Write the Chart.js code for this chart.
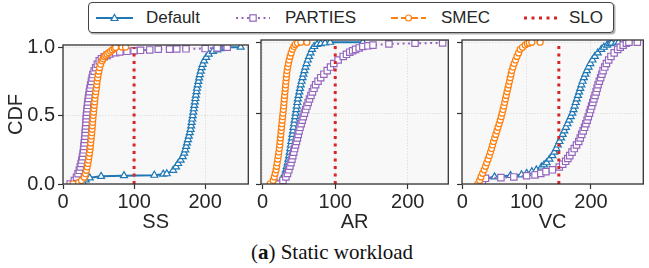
<!DOCTYPE html>
<html>
<head>
<meta charset="utf-8">
<script src="https://cdn.jsdelivr.net/npm/chart.js@4.4.0/dist/chart.umd.min.js"></script>
<style>
  body { margin: 0; width: 649px; height: 268px; background: #fff; position: relative; overflow: hidden;
         font-family: "Liberation Sans", Arial, sans-serif; }
  canvas { position: absolute; top: 30px; }
  #legend { position: absolute; left: 88px; top: 2px; width: 524px; height: 29px; border: 1.3px solid #444;
            border-radius: 4px; box-shadow: 1.5px 1.5px 0 rgba(0,0,0,0.3); background: #fff; }
  .item { position: absolute; top: 0; height: 29px; line-height: 29px; font-size: 17px; color: #262626; }
  .sample { position: absolute; top: 8px; }
  #caption { position: absolute; left: 232px; width: 200px; top: 240px; text-align: center;
             font: 21px "Liberation Serif", "Times New Roman", serif; color: #111; }
</style>
</head>
<body>
<div id="legend">
  <svg class="sample" style="left:7px" width="37" height="14">
    <line x1="0" y1="7" x2="37" y2="7" stroke="#1f77b4" stroke-width="2"/>
    <polygon points="18.5,3.5 22,9.5 15,9.5" fill="#fff" stroke="#1f77b4" stroke-width="1.2"/>
  </svg>
  <span class="item" style="left:57px">Default</span>
  <svg class="sample" style="left:147px" width="34" height="14">
    <line x1="0" y1="7" x2="34" y2="7" stroke="#9467bd" stroke-width="2" stroke-dasharray="2,3.5"/>
    <rect x="13.8" y="3.8" width="6.4" height="6.4" fill="#fff" stroke="#9467bd" stroke-width="1.2"/>
  </svg>
  <span class="item" style="left:196px">PARTIES</span>
  <svg class="sample" style="left:302px" width="35" height="14">
    <line x1="0" y1="7" x2="35" y2="7" stroke="#ff7f0e" stroke-width="2.2" stroke-dasharray="7,3"/>
    <circle cx="17.5" cy="7" r="3" fill="#fff" stroke="#ff7f0e" stroke-width="1.2"/>
  </svg>
  <span class="item" style="left:352px">SMEC</span>
  <svg class="sample" style="left:435px" width="33" height="14">
    <line x1="0" y1="7" x2="33" y2="7" stroke="#d62728" stroke-width="3" stroke-dasharray="3,4.5"/>
  </svg>
  <span class="item" style="left:480px">SLO</span>
</div>

<canvas id="ss" width="254" height="204" style="left:0px"></canvas>
<canvas id="ar" width="201" height="204" style="left:253px"></canvas>
<canvas id="vc" width="195" height="204" style="left:454px"></canvas>

<div id="caption">(<b>a</b>) Static workload</div>

<script>
// latency vs. cumulative fraction: [latency, cdf]
const ssDefault = [[28,0.01],[32,0.03],[37.6,0.045],[53.6,0.056],[85.8,0.061],[128.5,0.064],[141,0.072],
  [146,0.075],[155,0.1],[159,0.125],[162,0.15],[165.5,0.175],[168.5,0.2],[170.5,0.225],[172,0.25],[173.3,0.275],
  [174.5,0.3],[175.8,0.325],[177,0.35],[178.3,0.375],[179.5,0.4],[180.3,0.425],[181,0.45],[181.8,0.475],
  [182.5,0.5],[183.3,0.525],[184,0.55],[184.8,0.575],[185.5,0.6],[186.3,0.625],[187,0.65],[187.8,0.675],
  [188.5,0.7],[189.5,0.725],[190.5,0.75],[191.5,0.775],[192.5,0.8],[193.7,0.825],[195,0.85],[196.5,0.875],
  [198.5,0.9],[201.5,0.925],[205,0.95],[211,0.97],[217,0.98],[222,0.99],[228,1.0],[250,1.0]];
const ssParties = [[10,0.0],[16,0.025],[19,0.05],[21.2,0.075],[23,0.1],[24.3,0.125],[25.5,0.15],[26.5,0.175],
  [27.5,0.2],[28.3,0.225],[29,0.25],[29.5,0.275],[30,0.3],[30.5,0.325],[31,0.35],[31.3,0.375],[31.7,0.4],
  [32,0.425],[32.4,0.45],[32.7,0.475],[33,0.5],[33.5,0.525],[34,0.55],[34.5,0.575],[35,0.6],[35.7,0.625],
  [36.5,0.65],[37.2,0.675],[38,0.7],[39,0.725],[40,0.75],[41,0.775],[42,0.8],[43.8,0.825],[46,0.85],
  [48.3,0.875],[51,0.9],[54,0.915],[58,0.93],[62,0.94],[66,0.95],[74,0.96],[80,0.965],[90,0.97],[100,0.974],
  [109,0.977],[122,0.98],[134,0.985],[150,0.986],[160,0.987],[173,0.988],[200,0.99],[217,0.995],[231,1.0]];
const ssSmec = [[14,0.0],[22,0.01],[26,0.025],[30,0.05],[31.7,0.075],[33,0.1],[34,0.125],[35,0.15],[35.8,0.175],
  [36.5,0.2],[37.3,0.225],[38,0.25],[38.5,0.275],[39,0.3],[39.5,0.325],[40,0.35],[40.5,0.375],[41,0.4],
  [41.3,0.425],[41.7,0.45],[42.1,0.475],[42.5,0.5],[43,0.525],[43.5,0.55],[44,0.575],[44.5,0.6],[45,0.625],
  [45.5,0.65],[46.2,0.675],[47,0.7],[47.5,0.725],[48,0.75],[48.8,0.775],[49.5,0.8],[50.5,0.825],[51.5,0.85],
  [53,0.875],[55,0.9],[56.5,0.915],[58,0.93],[60,0.94],[62,0.95],[64.5,0.96],[67,0.97],[69.5,0.98],[72,0.99],
  [74,0.998],[83,1.0],[88,1.0]];

const arDefault = [[20,0.0],[25.5,0.025],[29,0.05],[30.7,0.075],[32,0.1],[33.3,0.125],[34.5,0.15],[35.5,0.175],
  [36.5,0.2],[37.3,0.225],[38,0.25],[38.8,0.275],[39.5,0.3],[40.3,0.325],[41,0.35],[41.8,0.375],[42.5,0.4],
  [43.3,0.425],[44,0.45],[44.8,0.475],[45.5,0.5],[46.3,0.525],[47,0.55],[47.8,0.575],[48.5,0.6],[49.5,0.625],
  [50.5,0.65],[51.5,0.675],[52.5,0.7],[53.7,0.725],[55,0.75],[56.2,0.775],[57.5,0.8],[59,0.825],[60.5,0.85],
  [62.2,0.875],[64,0.9],[66,0.925],[68,0.95],[71,0.97],[75,0.985],[80,0.99],[86,0.995],[93,1.0],[138,1.0]];
const arParties = [[22,0.0],[28,0.025],[32,0.05],[34.2,0.075],[36,0.1],[37.5,0.125],[39,0.15],[40.3,0.175],
  [41.5,0.2],[42.8,0.225],[44,0.25],[45.3,0.275],[46.5,0.3],[47.8,0.325],[49,0.35],[50.2,0.375],[51.5,0.4],
  [53,0.425],[54.5,0.45],[56,0.475],[57.5,0.5],[59.2,0.525],[61,0.55],[62.7,0.575],[64.5,0.6],[66.5,0.625],
  [68.5,0.65],[70.7,0.675],[73,0.7],[76.3,0.725],[80,0.75],[84.3,0.775],[89,0.8],[93.5,0.825],[98,0.85],
  [104,0.875],[111,0.9],[115.5,0.915],[120,0.93],[124,0.94],[128,0.95],[133,0.96],[138,0.97],[145,0.975],
  [152,0.98],[174,0.988],[210,0.993],[248,0.995]];
const arSmec = [[10,0.0],[14.5,0.025],[16,0.05],[17.3,0.075],[18.5,0.1],[19.3,0.125],[20,0.15],[20.8,0.175],
  [21.6,0.2],[22.3,0.225],[23,0.25],[23.5,0.275],[24,0.3],[24.5,0.325],[25,0.35],[25.5,0.375],[26,0.4],
  [26.5,0.425],[27,0.45],[27.5,0.475],[28,0.5],[28.5,0.525],[29,0.55],[29.4,0.575],[29.8,0.6],[30.3,0.625],
  [30.8,0.65],[31.2,0.675],[31.6,0.7],[32.1,0.725],[32.6,0.75],[33.1,0.775],[33.7,0.8],[34.5,0.825],[35.5,0.85],
  [36.5,0.875],[37.8,0.9],[39.3,0.925],[41,0.95],[43,0.97],[45,0.985],[48,0.995],[52.7,1.0],[61,1.0]];

const vcDefault = [[24,0.0],[28,0.02],[35,0.04],[50,0.05],[75,0.06],[92,0.065],[100,0.075],[108,0.087],
  [115,0.1],[123,0.12],[127,0.135],[131,0.15],[135.5,0.175],[140,0.2],[143,0.225],[146,0.25],[148.5,0.275],
  [151,0.3],[153.5,0.325],[156,0.35],[158.5,0.375],[161,0.4],[163.5,0.425],[166,0.45],[168.5,0.475],[171,0.5],
  [172.8,0.525],[174.5,0.55],[176.3,0.575],[178,0.6],[179.8,0.625],[181.5,0.65],[183.3,0.675],[185,0.7],
  [187,0.725],[189,0.75],[191.2,0.775],[193.5,0.8],[196.2,0.825],[199,0.85],[202.3,0.875],[206,0.9],
  [210.5,0.925],[216,0.95],[220,0.965],[225,0.98],[229,0.99],[232,0.995],[239,1.0],[243,1.0]];
const vcParties = [[28,0.0],[31,0.02],[36,0.04],[60,0.045],[80,0.05],[100,0.058],[113,0.064],[122,0.075],
  [130,0.087],[140,0.1],[150.6,0.12],[156,0.14],[160.6,0.16],[164,0.18],[167,0.2],[170.5,0.225],[174,0.25],
  [177.5,0.275],[181,0.3],[183.3,0.325],[185.5,0.35],[187.8,0.375],[190,0.4],[192,0.425],[194,0.45],
  [195.8,0.475],[197.6,0.5],[199.3,0.525],[201,0.55],[202.8,0.575],[204.5,0.6],[206.3,0.625],[208,0.65],
  [209.5,0.675],[211,0.7],[213,0.725],[215,0.75],[216.9,0.775],[218.8,0.8],[221.4,0.825],[224,0.85],
  [227.5,0.875],[231,0.9],[236,0.925],[241.5,0.95],[245.5,0.965],[250,0.98],[255,0.993],[259,1.0],[272,1.0]];
const vcSmec = [[24,0.0],[27,0.025],[29,0.05],[31.5,0.075],[34,0.1],[36,0.125],[38,0.15],[40,0.175],[42,0.2],
  [43.8,0.225],[45.5,0.25],[47,0.275],[48.5,0.3],[50.3,0.325],[52,0.35],[53.8,0.375],[55.5,0.4],[57.3,0.425],
  [59,0.45],[60.5,0.475],[62,0.5],[63.3,0.525],[64.5,0.55],[65.8,0.575],[67,0.6],[68.3,0.625],[69.5,0.65],
  [70.8,0.675],[72,0.7],[73.3,0.725],[74.5,0.75],[75.8,0.775],[77,0.8],[78.7,0.825],[80.5,0.85],[82.7,0.875],
  [85,0.9],[87.5,0.925],[90,0.95],[93.5,0.965],[97.6,0.98],[101,0.99],[104,0.995],[108,1.0],[121,1.0]];

const sloLatency = [100, 100, 150];   // SS, AR, VC
const xTicks = [0, 100, 200];
const yTicks = [0, 0.5, 1.0];

const textColor = "#262626";

const framePlugin = {
  id: "frame",
  beforeDraw(chart) {
    const { ctx, chartArea: a } = chart;
    ctx.save();
    ctx.fillStyle = "#f8f8f8";
    ctx.fillRect(a.left, a.top, a.right - a.left, a.bottom - a.top);
    ctx.restore();
  },
  afterDraw(chart) {
    const { ctx, chartArea: a } = chart;
    ctx.save();
    ctx.strokeStyle = "#333";
    ctx.lineWidth = 1.3;
    ctx.strokeRect(a.left, a.top, a.right - a.left, a.bottom - a.top);
    ctx.restore();
  }
};

function toXY(arr) {
  return arr.map(p => ({ x: p[0], y: p[1] }));
}

function makePanel(id, name, series, slo, xMin, xMax, axisW, rightPad, showY) {
  const ctx = document.getElementById(id).getContext("2d");
  return new Chart(ctx, {
    type: "scatter",
    data: {
      datasets: [
        {
          label: "SLO", data: [{ x: slo, y: 0 }, { x: slo, y: 1 }], showLine: true,
          borderColor: "#d62728", borderWidth: 3, borderDash: [3, 4.5], pointRadius: 0, order: 0
        },
        {
          label: "SMEC", data: toXY(series[2]), showLine: true, borderColor: "#ff7f0e", borderWidth: 2.2,
          borderDash: [7, 3], pointStyle: "circle", pointRadius: 3, pointBorderWidth: 1.2,
          pointBackgroundColor: "#fff", pointBorderColor: "#ff7f0e", order: 1
        },
        {
          label: "PARTIES", data: toXY(series[1]), showLine: true, borderColor: "#9467bd", borderWidth: 2,
          borderDash: [2, 3.5], pointStyle: "rect", pointRadius: 4.5, pointBorderWidth: 1.2,
          pointBackgroundColor: "#fff", pointBorderColor: "#9467bd", order: 2
        },
        {
          label: "Default", data: toXY(series[0]), showLine: true, borderColor: "#1f77b4", borderWidth: 2,
          pointStyle: "triangle", pointRadius: 4, pointBorderWidth: 1.2,
          pointBackgroundColor: "#fff", pointBorderColor: "#1f77b4", order: 3
        }
      ]
    },
    options: {
      responsive: false,
      animation: false,
      devicePixelRatio: 1,
      layout: { padding: { top: 10, right: rightPad, bottom: 0, left: 0 } },
      plugins: { legend: { display: false }, tooltip: { enabled: false } },
      scales: {
        x: {
          type: "linear", min: xMin, max: xMax,
          afterBuildTicks: s => { s.ticks = xTicks.map(v => ({ value: v })); },
          afterFit: s => { s.height = 50; },
          ticks: { color: textColor, padding: 1, maxRotation: 0, font: { size: 20, family: "Liberation Sans" } },
          grid: { color: "#d9d9d9", lineWidth: 0.8, tickLength: 5, tickColor: "#333", tickWidth: 1.2 },
          border: { display: false, dash: [1.5, 1.5] },
          title: { display: true, text: name, color: textColor, padding: 0,
                   font: { size: 20, family: "Liberation Sans", lineHeight: 1.2 } }
        },
        y: {
          type: "linear", min: 0, max: 1.016,
          afterBuildTicks: s => { s.ticks = yTicks.map(v => ({ value: v })); },
          afterFit: s => { s.width = axisW; },
          ticks: { display: showY, color: textColor, padding: 3, callback: v => v.toFixed(1),
                   font: { size: 20, family: "Liberation Sans" } },
          grid: { color: "#d9d9d9", lineWidth: 0.8, tickLength: 5, tickColor: "#333", tickWidth: 1.2 },
          border: { display: false, dash: [1.5, 1.5] },
          title: { display: showY, text: "CDF", color: textColor, padding: { top: 4, bottom: 0 },
                   font: { size: 20, family: "Liberation Sans", lineHeight: 1.2 } }
        }
      }
    },
    plugins: [framePlugin]
  });
}

makePanel("ss", "SS", [ssDefault, ssParties, ssSmec], sloLatency[0], 0, 260.7, 63, 2, true);
makePanel("ar", "AR", [arDefault, arParties, arSmec], sloLatency[1], -2.3, 255.8, 8, 2, false);
makePanel("vc", "VC", [vcDefault, vcParties, vcSmec], sloLatency[2], -0.5, 281.3, 8, 1, false);
</script>
</body>
</html>
